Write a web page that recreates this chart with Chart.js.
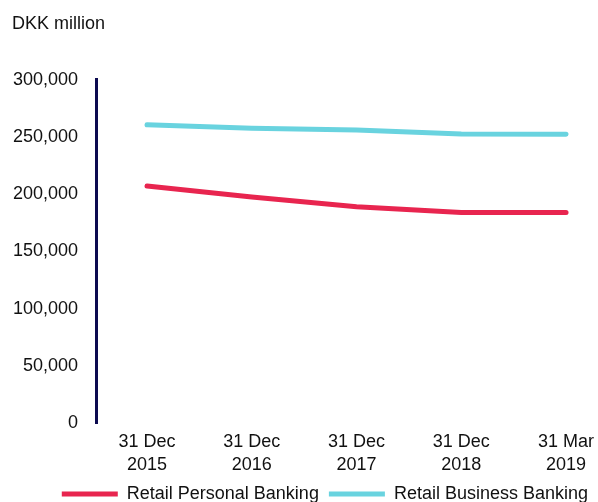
<!DOCTYPE html>
<html>
<head>
<meta charset="utf-8">
<script src="https://cdn.jsdelivr.net/npm/chart.js@4/dist/chart.umd.min.js"></script>
<style>
    html, body { margin: 0; padding: 0; background: #fff; }
    #wrap { width: 598px; height: 502px; }
</style>
</head>
<body>
<div id="wrap"><canvas id="chartDepositos"></canvas></div>
<script>
const categorias = [['31 Dec', '2015'], ['31 Dec', '2016'], ['31 Dec', '2017'], ['31 Dec', '2018'], ['31 Mar', '2019']];
const personalBanking = [207000, 197500, 189000, 184000, 184000];
const businessBanking = [260500, 257500, 256000, 252500, 252300];
const ticksY = [0, 50000, 100000, 150000, 200000, 250000, 300000];

iniciarGrafico();

function puntos(valores) {
    return valores.map((v, i) => ({x: i, y: v}));
}

function iniciarGrafico() {
    const ctx = document.getElementById('chartDepositos');
    const fuente = {family: "'Liberation Sans', Arial, sans-serif", size: 18};

    Chart.defaults.font = fuente;
    Chart.defaults.color = '#111';

    new Chart(ctx, {
        type: 'line',
        data: {
            datasets: [{
                label: 'Retail Personal Banking',
                data: puntos(personalBanking),
                borderColor: '#e8254f',
                backgroundColor: '#e8254f',
                borderWidth: 5,
                borderCapStyle: 'round',
                pointRadius: 0,
                tension: 0
            }, {
                label: 'Retail Business Banking',
                data: puntos(businessBanking),
                borderColor: '#69d3df',
                backgroundColor: '#69d3df',
                borderWidth: 5,
                borderCapStyle: 'round',
                pointRadius: 0,
                tension: 0
            }]
        },
        options: {
            responsive: true,
            maintainAspectRatio: false,
            animation: false,
            layout: {padding: {left: 12, right: 0, top: 0, bottom: -11}},
            plugins: {
                tooltip: {enabled: false},
                title: {
                    display: true,
                    text: 'DKK million',
                    align: 'start',
                    color: '#111',
                    font: {...fuente, weight: 'normal'},
                    padding: {top: 13, bottom: 45}
                },
                legend: {
                    position: 'bottom',
                    align: 'end',
                    labels: {
                        usePointStyle: true,
                        pointStyle: 'line',
                        pointStyleWidth: 56,
                        padding: 10,
                        color: '#111'
                    }
                }
            },
            scales: {
                x: {
                    type: 'linear',
                    min: -0.487,
                    max: 4.305,
                    afterBuildTicks: (scale) => {
                        scale.ticks = categorias.map((c, i) => ({value: i}));
                    },
                    afterFit: (scale) => {
                        scale.height = 52;
                        scale.paddingLeft = 0;
                        scale.paddingRight = 0;
                    },
                    ticks: {
                        autoSkip: false,
                        maxRotation: 0,
                        padding: 8,
                        font: {...fuente, lineHeight: 1.27},
                        callback: (v) => categorias[v]
                    },
                    grid: {display: false, drawTicks: false},
                    border: {display: false}
                },
                y: {
                    min: 0,
                    max: 300000,
                    afterBuildTicks: (scale) => {
                        scale.ticks = ticksY.map(v => ({value: v}));
                    },
                    afterFit: (scale) => {
                        scale.width = 84;
                    },
                    ticks: {
                        padding: 18,
                        callback: (v) => v.toLocaleString('en-US')
                    },
                    grid: {display: false, drawTicks: false},
                    border: {display: true, color: '#0c0a50', width: 3}
                }
            }
        }
    });
}
</script>
</body>
</html>
